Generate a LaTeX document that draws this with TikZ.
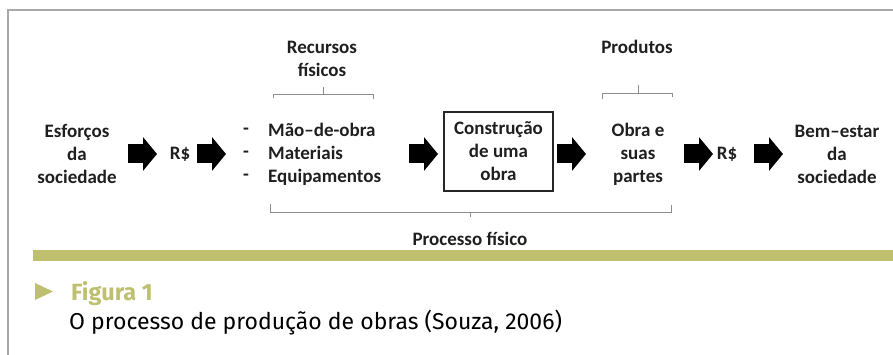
\documentclass[tikz,border=0pt]{standalone}
\usepackage{fontspec}
\setmainfont{Carlito}
\newfontfamily\capfont{Fira Sans}
\usetikzlibrary{arrows.meta}
\definecolor{framegray}{HTML}{A8A8A8}
\definecolor{bracegray}{HTML}{8C8C8C}
\definecolor{olive}{HTML}{BEC070}
\begin{document}
\begin{tikzpicture}[x=1pt,y=-1pt,
  txt/.style={align=center,inner sep=0pt,text=black!88,font=\bfseries\fontsize{19}{23}\selectfont},
  blockarrow/.style={line width=19pt,-{Triangle[width=33pt,length=14pt]},shorten >=0pt},
  bracket/.style={draw=bracegray,line width=0.8pt}]
\useasboundingbox (0,0) rectangle (893,355);
% frame
\draw[framegray,line width=1.5pt] (8,355) -- (8,10) -- (893,10);
% texts
\node[txt] (esf) at (77,154) {Esforços\\da\\sociedade};
\node[txt] (rs1) at (180,154) {R\$};
\node[txt,align=left,anchor=west] (dash) at (243,154) {-\\-\\-};
\node[txt,align=left,anchor=west] (rec) at (268,154) {Mão–de-obra\\Materiais\\Equipamentos};
\node[txt] (rf) at (322,59) {Recursos\\físicos};
\node[txt,draw=black!85,line width=1.3pt,minimum width=109pt,minimum height=79pt] (box) at (498.5,151.5) {Construção\\de uma\\obra};
\node[txt] (obra) at (638,154) {Obra e\\suas\\partes};
\node[txt] (prod) at (637,47) {Produtos};
\node[txt] (rs2) at (727,154) {R\$};
\node[txt] (bem) at (837,154) {Bem–estar\\da\\sociedade};
% block arrows
\foreach \n/\x in {1/128,2/197,3/409,4/557,5/684,6/754}{
  \coordinate (a\n s) at (\x,154);
  \coordinate (a\n e) at (\x+29,154);
}
\draw[blockarrow] (a1s) -- (a1e);
\draw[blockarrow] (a2s) -- (a2e);
\draw[blockarrow] (a3s) -- (a3e);
\draw[blockarrow] (a4s) -- (a4e);
\draw[blockarrow] (a5s) -- (a5e);
\draw[blockarrow] (a6s) -- (a6e);
% brackets
\coordinate (rl) at (273,94); \coordinate (rr) at (373,94); \coordinate (rc) at (323,94);
\draw[bracket] (rl) ++(0,4) -- (rl) -- (rr) -- ++(0,5);
\draw[bracket] (rc) -- ++(0,-7);
\coordinate (pl) at (602,93); \coordinate (pr) at (672,93); \coordinate (pc) at (638,93);
\draw[bracket] (pl) ++(0,6) -- (pl) -- (pr) -- ++(0,4);
\draw[bracket] (pc) -- ++(0,-8);
\coordinate (bl) at (270,212); \coordinate (br) at (671,212); \coordinate (bc) at (470,212);
\draw[bracket] (bl) ++(0,-8) -- (bl) -- (br) -- ++(0,-7);
\draw[bracket] (bc) -- ++(0,5);
\node[txt,anchor=base] (proc) at (470,245) {Processo físico};
% green bar
\fill[olive] (33,250) rectangle (893,260.5);
% caption
\fill[olive] (35,283) -- (53,291.5) -- (35,300) -- cycle;
\node[anchor=base west,inner sep=0pt,text=olive,font=\capfont\bfseries\fontsize{23.5}{28}\selectfont] (fig) at (71,300) {Figura 1};
\node[anchor=base west,inner sep=0pt,font=\capfont\fontsize{23}{28}\selectfont] (cap) at (69,329) {O processo de produção de obras (Souza, 2006)};
\end{tikzpicture}
\end{document}
